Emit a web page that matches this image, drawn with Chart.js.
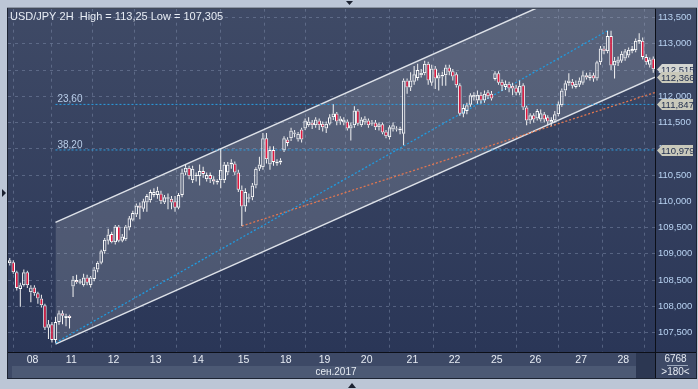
<!DOCTYPE html>
<html>
<head>
<meta charset="utf-8">
<script src="https://cdn.jsdelivr.net/npm/chart.js@4"></script>
<style>
  html, body { margin: 0; padding: 0; background: #bcc6d6; overflow: hidden; }
  #wrap { width: 698px; height: 389px; }
</style>
</head>
<body>
<div id="wrap"><canvas id="chart" width="698" height="389"></canvas></div>
<script>
// ===== DATA (USD/JPY 2H candles) =====
const open = [
  108.82, 108.84, 108.65, 108.33, 108.40, 108.65, 108.27, 108.36, 108.25, 108.15,
  108.02, 107.59, 107.66, 107.36, 107.70, 107.87, 107.78, 107.82, 108.38, 108.50,
  108.45, 108.40, 108.55, 108.40, 108.52, 108.70, 108.83, 109.05, 109.25, 109.38,
  109.22, 109.52, 109.25, 109.28, 109.50, 109.65, 109.75, 109.92, 109.86, 109.98,
  110.02, 110.12, 110.12, 110.15, 109.98, 110.08, 110.05, 110.00, 109.88, 110.12,
  110.55, 110.64, 110.40, 110.48, 110.48, 110.58, 110.42, 110.50, 110.42, 110.36,
  110.40, 110.40, 110.55, 110.70, 110.72, 110.55, 110.22, 109.90, 110.05, 110.08,
  110.30, 110.62, 110.65, 111.20, 110.70, 110.98, 110.72, 110.78, 110.97, 111.18,
  111.20, 111.31, 111.18, 111.37, 111.39, 111.45, 111.50, 111.45, 111.54, 111.48,
  111.39, 111.48, 111.60, 111.675, 111.52, 111.50, 111.52, 111.39, 111.45, 111.73,
  111.45, 111.50, 111.54, 111.48, 111.50, 111.41, 111.47, 111.33, 111.22, 111.37,
  111.37, 111.39, 111.29, 112.30, 112.17, 112.28, 112.35, 112.40, 112.44, 112.62,
  112.26, 112.53, 112.34, 112.38, 112.40, 112.55, 112.48, 112.42, 112.21, 111.67,
  111.72, 111.84, 111.98, 111.92, 112.03, 111.92, 112.08, 112.05, 112.33, 112.44,
  112.28, 112.18, 112.24, 112.20, 112.17, 112.07, 112.21, 111.79, 111.54, 111.64,
  111.58, 111.56, 111.66, 111.60, 111.50, 111.54, 111.66, 111.83, 112.11, 112.25,
  112.28, 112.18, 112.22, 112.26, 112.40, 112.35, 112.40, 112.34, 112.65, 112.91,
  112.86, 113.15, 112.59, 112.64, 112.68, 112.72, 112.78, 112.86, 112.88, 113.04,
  113.06, 112.75, 112.60, 112.72
];
const high = [
  108.92, 108.88, 108.68, 108.45, 108.70, 108.68, 108.40, 108.40, 108.28, 108.22,
  108.05, 107.74, 107.70, 107.80, 107.92, 107.92, 107.86, 107.84, 108.58, 108.60,
  108.52, 108.62, 108.60, 108.58, 108.75, 108.86, 109.08, 109.30, 109.48, 109.42,
  109.55, 109.55, 109.38, 109.55, 109.72, 109.82, 109.96, 109.98, 110.05, 110.14,
  110.22, 110.25, 110.28, 110.20, 110.12, 110.15, 110.10, 110.10, 110.16, 110.62,
  110.70, 110.68, 110.68, 110.55, 110.70, 110.66, 110.55, 110.55, 110.48, 110.42,
  111.00, 110.75, 110.75, 110.80, 110.76, 110.60, 110.30, 110.25, 110.15, 110.35,
  110.65, 110.85, 111.30, 111.30, 111.05, 111.05, 110.80, 110.82, 111.24, 111.22,
  111.40, 111.36, 111.32, 111.40, 111.58, 111.60, 111.55, 111.60, 111.58, 111.52,
  111.52, 111.66, 111.85, 111.70, 111.62, 111.60, 111.56, 111.50, 111.81, 111.76,
  111.60, 111.62, 111.58, 111.55, 111.55, 111.50, 111.50, 111.36, 111.45, 111.50,
  111.43, 111.42, 112.34, 112.34, 112.46, 112.58, 112.62, 112.52, 112.68, 112.66,
  112.60, 112.58, 112.45, 112.47, 112.60, 112.60, 112.52, 112.46, 112.25, 111.85,
  111.88, 112.06, 112.08, 112.11, 112.08, 112.11, 112.12, 112.10, 112.48, 112.48,
  112.32, 112.30, 112.28, 112.26, 112.22, 112.30, 112.25, 111.82, 111.68, 111.68,
  111.76, 111.75, 111.70, 111.64, 111.60, 111.72, 111.90, 112.15, 112.30, 112.44,
  112.33, 112.30, 112.36, 112.48, 112.45, 112.46, 112.45, 112.68, 112.96, 112.96,
  113.25, 113.25, 112.75, 112.76, 112.86, 112.90, 112.93, 112.96, 113.10, 113.20,
  113.12, 112.80, 112.74, 112.76
];
const low = [
  108.78, 108.62, 108.30, 107.99, 108.38, 108.35, 108.08, 108.20, 108.05, 107.98,
  107.55, 107.38, 107.31, 107.305, 107.65, 107.66, 107.62, 107.58, 108.18, 108.43,
  108.42, 108.38, 108.40, 108.36, 108.48, 108.65, 108.80, 109.00, 109.18, 109.20,
  109.18, 109.22, 109.22, 109.25, 109.45, 109.62, 109.70, 109.66, 109.80, 109.80,
  109.98, 110.08, 110.05, 109.95, 109.95, 109.85, 109.85, 109.80, 109.85, 110.08,
  110.50, 110.42, 110.35, 110.38, 110.30, 110.45, 110.38, 110.35, 110.32, 110.32,
  110.25, 110.35, 110.50, 110.62, 110.50, 110.18, 109.53, 109.80, 109.98, 110.02,
  110.25, 110.58, 110.60, 110.72, 110.60, 110.68, 110.68, 110.70, 110.94, 111.05,
  111.15, 111.22, 111.14, 111.12, 111.36, 111.42, 111.38, 111.40, 111.36, 111.33,
  111.30, 111.45, 111.55, 111.45, 111.46, 111.45, 111.35, 111.16, 111.40, 111.44,
  111.42, 111.46, 111.40, 111.44, 111.36, 111.35, 111.28, 111.20, 111.18, 111.33,
  111.33, 111.28, 111.07, 112.05, 112.10, 112.22, 112.30, 112.36, 112.40, 112.22,
  112.20, 112.14, 112.11, 112.20, 112.20, 112.40, 112.30, 112.17, 111.63, 111.60,
  111.66, 111.80, 111.92, 111.86, 111.86, 111.88, 111.95, 111.92, 112.30, 112.22,
  112.10, 112.12, 112.08, 112.02, 112.02, 112.02, 111.74, 111.45, 111.48, 111.50,
  111.54, 111.52, 111.50, 111.46, 111.44, 111.50, 111.62, 111.80, 112.00, 112.20,
  112.15, 112.15, 112.18, 112.22, 112.32, 112.30, 112.28, 112.30, 112.60, 112.80,
  112.82, 112.50, 112.34, 112.58, 112.64, 112.68, 112.74, 112.82, 112.84, 113.00,
  112.70, 112.60, 112.55, 112.45
];
const close = [
  108.88, 108.65, 108.35, 108.40, 108.65, 108.40, 108.36, 108.25, 108.15, 108.02,
  107.59, 107.66, 107.36, 107.70, 107.87, 107.82, 107.82, 107.78, 108.51, 108.46,
  108.48, 108.55, 108.45, 108.55, 108.70, 108.83, 109.05, 109.27, 109.37, 109.22,
  109.52, 109.25, 109.33, 109.52, 109.68, 109.78, 109.92, 109.88, 110.00, 110.10,
  110.18, 110.18, 110.20, 110.00, 110.08, 110.05, 109.98, 109.88, 110.12, 110.55,
  110.64, 110.48, 110.62, 110.50, 110.58, 110.52, 110.50, 110.42, 110.38, 110.39,
  110.60, 110.70, 110.70, 110.74, 110.55, 110.22, 109.90, 110.18, 110.08, 110.30,
  110.62, 110.70, 111.20, 110.80, 110.98, 110.75, 110.76, 110.74, 111.20, 111.11,
  111.35, 111.29, 111.29, 111.18, 111.54, 111.52, 111.45, 111.56, 111.45, 111.41,
  111.48, 111.60, 111.675, 111.52, 111.58, 111.56, 111.39, 111.45, 111.73, 111.48,
  111.56, 111.58, 111.45, 111.50, 111.41, 111.47, 111.31, 111.24, 111.41, 111.45,
  111.39, 111.35, 112.30, 112.17, 112.30, 112.42, 112.50, 112.45, 112.62, 112.30,
  112.53, 112.34, 112.40, 112.41, 112.55, 112.47, 112.38, 112.21, 111.67, 111.78,
  111.83, 112.02, 112.03, 112.03, 111.92, 112.05, 112.00, 111.96, 112.44, 112.26,
  112.20, 112.24, 112.15, 112.15, 112.07, 112.20, 111.79, 111.54, 111.64, 111.56,
  111.72, 111.68, 111.56, 111.52, 111.55, 111.66, 111.85, 112.11, 112.25, 112.30,
  112.20, 112.24, 112.30, 112.40, 112.36, 112.40, 112.34, 112.65, 112.91, 112.86,
  113.15, 112.59, 112.68, 112.70, 112.81, 112.86, 112.89, 112.90, 113.06, 113.08,
  112.75, 112.65, 112.70, 112.515
];

// candle index where each trading day starts, and its label
const dayStarts = [7, 18, 30, 42, 54, 67, 79, 90, 102, 115, 127, 139, 150, 163, 175];
const dayLabels = ["08", "11", "12", "13", "14", "15", "18", "19", "20", "21", "22", "25", "26", "27", "28"];
const priceTicks = [107.5, 108, 108.5, 109, 109.5, 110, 110.5, 111, 111.5, 112, 112.5, 113, 113.5];

// trend lines: [candle index, price]
const channelLow  = [[13.5, 107.28], [184, 112.366]];
const channelHigh = [[13.5, 109.60], [184, 114.686]];
const trendBlue   = [[13.5, 107.305], [170.5, 113.25]];
const trendOrange = [[66.5, 109.53], [184, 112.074]];
const fibLevels = [111.847, 110.979];
const fibNames  = ["23,60", "38,20"];
const fibFrom = 13.5;
const priceFlags = [112.515, 112.366, 111.847, 110.979];

const TITLE = "USD/JPY 2H  High = 113,25 Low = 107,305";
const FONT_FAMILY = "'Liberation Sans', Arial, sans-serif";

// ===== HELPERS =====
const fmt = v => v.toFixed(3).replace(".", ",");
const pts = arr => arr.map(p => ({ x: p[0], y: p[1] }));

const bodies = open.map((o, i) => ({ x: i + 0.5, y: [o, close[i]] }));
const upWicks = open.map((o, i) => ({ x: i + 0.5, y: [Math.max(o, close[i]), high[i]] }));
const dnWicks = open.map((o, i) => ({ x: i + 0.5, y: [low[i], Math.min(o, close[i])] }));
const bodyColors = open.map((o, i) => close[i] < o ? "#e3173e" : "rgba(0,0,0,0)");

function lineSet(data, color, width, dash, extra) {
  return Object.assign({
    type: "line",
    data: pts(data),
    borderColor: color,
    borderWidth: width,
    borderDash: dash,
    pointRadius: 0,
    fill: false,
    order: 3
  }, extra || {});
}

// ===== BACKGROUND / OVERLAY =====
const framePlugin = {
  id: "frame",
  beforeDraw(chart) {
    const { ctx, chartArea: a } = chart;
    const yr = chart.scales.y.right;
    ctx.save();
    ctx.fillStyle = "#bcc6d6";
    ctx.fillRect(0, 0, chart.width, chart.height);
    const g = ctx.createLinearGradient(0, a.top, 0, a.bottom);
    g.addColorStop(0, "#3f4a66");
    g.addColorStop(1, "#2a3657");
    ctx.fillStyle = g;
    ctx.fillRect(a.left, a.top, yr - a.left, a.bottom - a.top);
    ctx.fillStyle = "#3d4966";
    ctx.fillRect(a.left, a.bottom, yr - a.left, 26);
    ctx.fillStyle = "#4c5974";
    ctx.fillRect(a.left + 4, a.bottom + 14, a.right - a.left - 23, 12);
    ctx.fillStyle = "#2c3752";
    ctx.fillRect(a.right - 19, a.bottom + 1, 19, 25);
    ctx.restore();
  },
  afterDraw(chart) {
    const { ctx, chartArea: a, scales: { x, y } } = chart;
    const yr = y.right;
    ctx.save();

    // separators
    ctx.strokeStyle = "#0c0f18";
    ctx.lineWidth = 1;
    ctx.beginPath();
    ctx.moveTo(a.left, a.bottom + 0.5); ctx.lineTo(yr, a.bottom + 0.5);
    ctx.moveTo(a.right + 0.5, a.top); ctx.lineTo(a.right + 0.5, a.bottom + 26);
    ctx.stroke();
    ctx.strokeStyle = "#1d2433";
    ctx.strokeRect(a.left - 0.5, a.top - 0.5, yr - a.left + 1, a.bottom + 26 - a.top + 1);

    // title
    ctx.font = "11px " + FONT_FAMILY;
    ctx.fillStyle = "#e8edf5";
    ctx.textBaseline = "alphabetic";
    ctx.textAlign = "left";
    ctx.fillText(TITLE, a.left + 2, a.top + 11);

    // fibo labels
    ctx.font = "10px " + FONT_FAMILY;
    ctx.fillStyle = "#b9cde8";
    fibLevels.forEach((v, i) => {
      ctx.fillText(fibNames[i], x.getPixelForValue(fibFrom) + 2, y.getPixelForValue(v) - 2);
    });

    // price flags on the axis
    ctx.font = "9.5px " + FONT_FAMILY;
    ctx.textBaseline = "middle";
    priceFlags.forEach((v, i) => {
      const py = Math.round(y.getPixelForValue(v)) + 0.5;
      const x0 = a.right + 2;
      ctx.beginPath();
      ctx.moveTo(x0, py);
      ctx.lineTo(x0 + 5, py - 5.5);
      ctx.lineTo(yr - 3, py - 5.5);
      ctx.lineTo(yr - 3, py + 5.5);
      ctx.lineTo(x0 + 5, py + 5.5);
      ctx.closePath();
      ctx.fillStyle = i === 0 ? "#d4d6d2" : "#c9c9bb";
      ctx.fill();
      ctx.fillStyle = "#23304f";
      ctx.fillText(fmt(v), x0 + 4, py + 0.5);
    });

    // bottom texts
    ctx.font = "10px " + FONT_FAMILY;
    ctx.textAlign = "center";
    ctx.fillStyle = "#e6ebf3";
    ctx.fillText("сен.2017", 336, a.bottom + 20);
    ctx.fillText("6768", (a.right + yr) / 2, a.bottom + 7);
    ctx.fillText(">180<", (a.right + yr) / 2, a.bottom + 20);
    ctx.strokeStyle = "#9aa6bb";
    ctx.beginPath();
    ctx.moveTo(a.right + 12, a.bottom + 13.5); ctx.lineTo(yr - 8, a.bottom + 13.5);
    ctx.stroke();

    // little scroll arrows on the frame
    ctx.fillStyle = "#1b2130";
    ctx.beginPath();
    ctx.moveTo(346, 1); ctx.lineTo(353, 1); ctx.lineTo(349.5, 5); ctx.closePath(); ctx.fill();
    ctx.beginPath();
    ctx.moveTo(2, 189); ctx.lineTo(6, 193); ctx.lineTo(2, 197); ctx.closePath(); ctx.fill();
    ctx.beginPath();
    ctx.moveTo(348, 388); ctx.lineTo(356, 388); ctx.lineTo(352, 383); ctx.closePath(); ctx.fill();
    ctx.restore();
  }
};

// ===== CHART =====
const gridColor = "rgba(125,140,170,0.5)";

new Chart(document.getElementById("chart"), {
  type: "bar",
  data: {
    datasets: [
      {
        data: bodies,
        backgroundColor: bodyColors,
        borderColor: "#ffffff",
        borderWidth: 1,
        borderSkipped: false,
        barThickness: 3.5,
        minBarLength: 1,
        inflateAmount: 0,
        grouped: false,
        order: 0
      },
      {
        data: upWicks,
        backgroundColor: "#f4f4f4",
        borderWidth: 0,
        barThickness: 1,
        inflateAmount: 0,
        grouped: false,
        order: 1
      },
      {
        data: dnWicks,
        backgroundColor: "#f4f4f4",
        borderWidth: 0,
        barThickness: 1,
        inflateAmount: 0,
        grouped: false,
        order: 1
      },
      lineSet(channelLow, "#dde1e8", 1.5, [], { order: 4 }),
      lineSet(channelHigh, "#dde1e8", 1.5, [], { order: 4, fill: "-1", backgroundColor: "rgba(200,204,212,0.2)" }),
      lineSet(trendBlue, "#1f9be0", 1.3, [2, 2]),
      lineSet(trendOrange, "#e07650", 1.3, [2, 2]),
      lineSet([[fibFrom, fibLevels[0]], [184, fibLevels[0]]], "#2a9fe2", 1, [2, 2]),
      lineSet([[fibFrom, fibLevels[1]], [184, fibLevels[1]]], "#2a9fe2", 1, [2, 2])
    ]
  },
  options: {
    responsive: false,
    animation: false,
    devicePixelRatio: 1,
    layout: { padding: { left: 8, top: 8, right: 2, bottom: 11 } },
    plugins: {
      legend: { display: false },
      tooltip: { enabled: false }
    },
    scales: {
      x: {
        type: "linear",
        min: 0,
        max: 184,
        offset: false,
        afterBuildTicks: s => { s.ticks = dayStarts.map(v => ({ value: v })); },
        afterFit: s => { s.height = 26; },
        ticks: {
          autoSkip: false,
          maxRotation: 0,
          padding: 2,
          color: "#e6ebf3",
          font: { family: FONT_FAMILY, size: 10.5 },
          callback: (v, i) => dayLabels[i]
        },
        grid: { color: gridColor, drawTicks: false },
        border: { display: false, dash: [3, 4] }
      },
      y: {
        type: "linear",
        position: "right",
        min: 107.13,
        max: 113.67,
        afterBuildTicks: s => { s.ticks = priceTicks.map(v => ({ value: v })); },
        afterFit: s => { s.width = 41; },
        ticks: {
          padding: 3,
          color: "#b9d3f2",
          font: { family: FONT_FAMILY, size: 9.5 },
          callback: v => fmt(v)
        },
        grid: { color: gridColor, drawTicks: false },
        border: { display: false, dash: [3, 4] }
      }
    }
  },
  plugins: [framePlugin]
});
</script>
</body>
</html>
